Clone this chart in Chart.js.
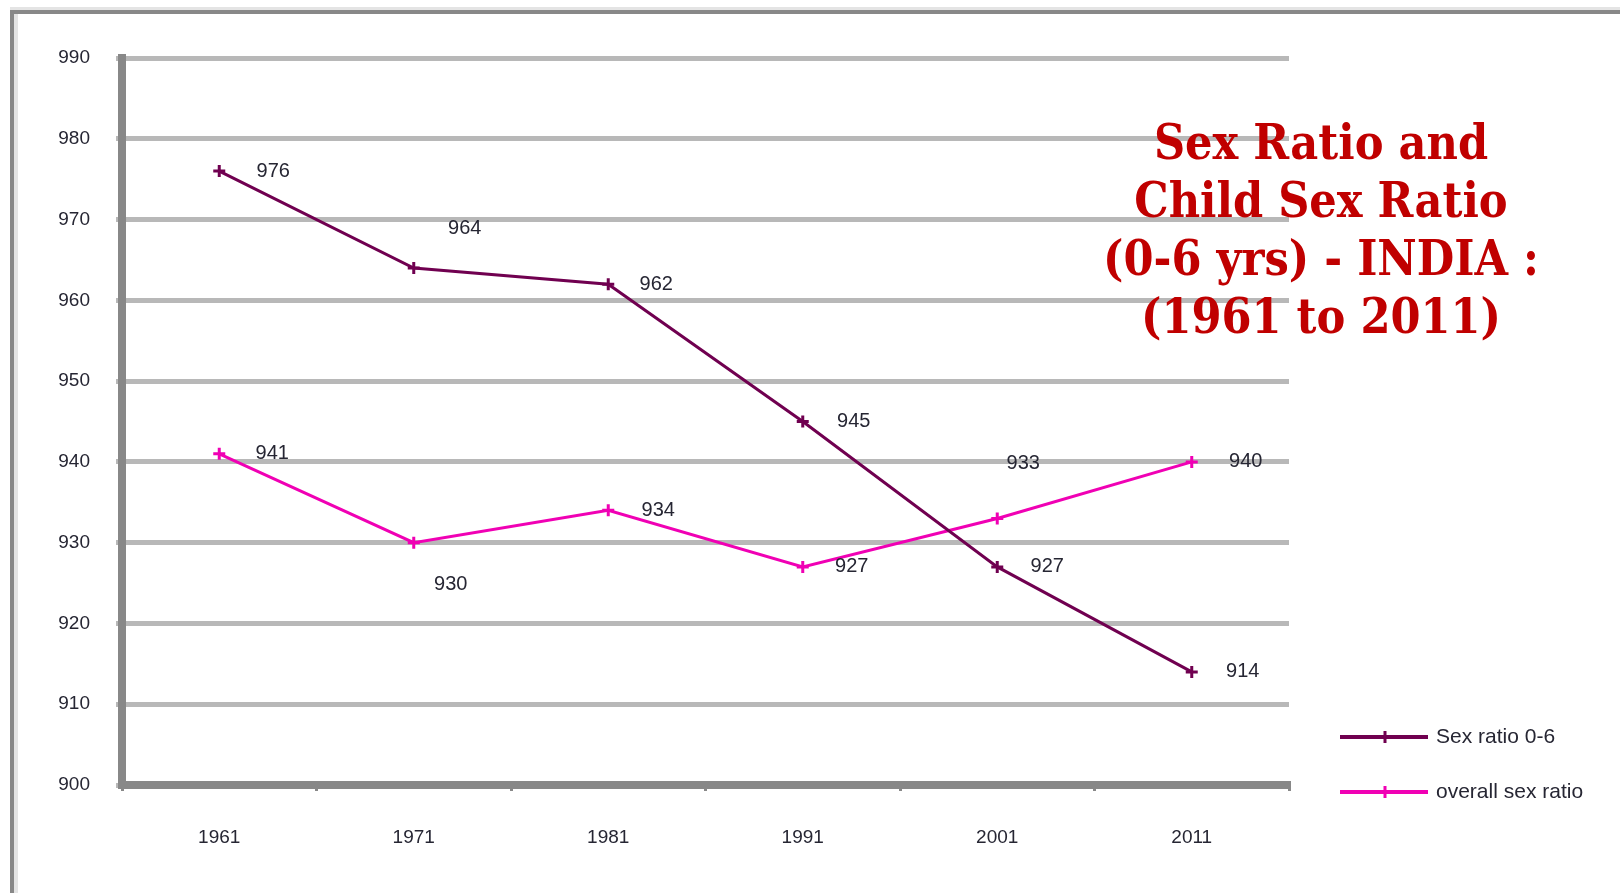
<!DOCTYPE html>
<html>
<head>
<meta charset="utf-8">
<title>Sex Ratio and Child Sex Ratio - India</title>
<script src="https://cdn.jsdelivr.net/npm/chart.js@4"></script>
<style>
  body { margin: 0; background: #fff; }
  #wrap { position: relative; width: 1620px; height: 893px; }
  #heading {
    position: absolute;
    left: 1071px;
    top: 113px;
    width: 500px;
    text-align: center;
    font-family: "DejaVu Serif Condensed", "DejaVu Serif", serif;
    font-stretch: condensed;
    font-weight: bold;
    font-size: 48px;
    line-height: 58px;
    color: #c00000;
  }
</style>
</head>
<body>
<div id="wrap">
  <canvas id="ratioChart" width="1620" height="893"></canvas>
  <div id="heading">Sex Ratio and<br>Child Sex Ratio<br>(0-6 yrs) - INDIA :<br>(1961 to 2011)</div>
</div>
<script>
const years = ["1961", "1971", "1981", "1991", "2001", "2011"];
const childSexRatio = [976, 964, 962, 945, 927, 914];
const overallSexRatio = [941, 930, 934, 927, 933, 940];
const seriesNames = ["Sex ratio 0-6", "overall sex ratio"];
const yMin = 900;
const yMax = 990;
const yStep = 10;

// where each value label sits relative to its point
const labelShiftX = [
  [54, 51, 48, 51, 50, 51],
  [53, 37, 50, 49, 26, 54],
];
const labelShiftY = [
  [0, -40, 0, 0, 0, 0],
  [0, 42, 0, 0, -55, 0],
];

const sansFamily = "'Liberation Sans', Arial, sans-serif";
const textColor = "#262633";

// grey frame along the top and left edge
const framePlugin = {
  id: "frame",
  beforeDraw(chart) {
    const c = chart.ctx;
    c.save();
    c.fillStyle = "#fff";
    c.fillRect(0, 0, chart.width, chart.height);
    c.fillStyle = "#e4e4e4";
    c.fillRect(10, 7, chart.width - 10, 3);
    c.fillRect(14, 14, 4, chart.height - 14);
    c.fillStyle = "#888";
    c.fillRect(10, 10, chart.width - 10, 4);
    c.fillRect(10, 10, 4, chart.height - 10);
    c.restore();
  },
};

const valueLabels = {
  id: "valueLabels",
  afterDatasetsDraw(chart) {
    const c = chart.ctx;
    c.save();
    c.font = "20px " + sansFamily;
    c.fillStyle = textColor;
    c.textAlign = "center";
    c.textBaseline = "middle";
    chart.data.datasets.forEach((ds, i) => {
      const meta = chart.getDatasetMeta(i);
      meta.data.forEach((pt, j) => {
        c.fillText(String(ds.data[j]), pt.x + labelShiftX[i][j], pt.y + labelShiftY[i][j]);
      });
    });
    c.restore();
  },
};

// legend in the lower right, built from the datasets
const sideLegend = {
  id: "sideLegend",
  afterDraw(chart) {
    const c = chart.ctx;
    const rows = [737, 792];
    c.save();
    chart.data.datasets.forEach((ds, i) => {
      const y = rows[i];
      c.strokeStyle = ds.borderColor;
      c.lineWidth = 4;
      c.beginPath();
      c.moveTo(1340, y);
      c.lineTo(1428, y);
      c.stroke();
      c.lineWidth = 3;
      c.beginPath();
      c.moveTo(1385, y - 6);
      c.lineTo(1385, y + 6);
      c.moveTo(1379, y);
      c.lineTo(1391, y);
      c.stroke();
      c.font = "21px " + sansFamily;
      c.fillStyle = textColor;
      c.textAlign = "left";
      c.textBaseline = "middle";
      c.fillText(ds.label, 1436, y);
    });
    c.restore();
  },
};

const ctx = document.getElementById("ratioChart").getContext("2d");

const ratioChart = new Chart(ctx, {
  type: "line",
  data: {
    labels: years,
    datasets: [
      {
        label: seriesNames[0],
        data: childSexRatio,
        borderColor: "#700050",
        backgroundColor: "#700050",
        borderWidth: 3,
        pointStyle: "cross",
        pointRadius: 6,
        pointBorderWidth: 3,
        tension: 0,
      },
      {
        label: seriesNames[1],
        data: overallSexRatio,
        borderColor: "#f000b4",
        backgroundColor: "#f000b4",
        borderWidth: 3,
        pointStyle: "cross",
        pointRadius: 6,
        pointBorderWidth: 3,
        tension: 0,
      },
    ],
  },
  options: {
    responsive: false,
    animation: false,
    layout: {
      padding: { left: 0, top: 58, right: 331, bottom: 0 },
    },
    plugins: {
      legend: { display: false },
      tooltip: { enabled: false },
    },
    scales: {
      x: {
        offset: true,
        afterFit: (scale) => { scale.height = 108; },
        grid: {
          offset: true,
          drawOnChartArea: false,
          color: "#888",
          lineWidth: 3,
          tickLength: 6,
        },
        border: { color: "#888", width: 8 },
        ticks: {
          color: textColor,
          font: { family: sansFamily, size: 19 },
          padding: 35,
          maxRotation: 0,
        },
      },
      y: {
        min: yMin,
        max: yMax,
        afterFit: (scale) => { scale.width = 122; },
        grid: {
          color: "#b8b8b8",
          lineWidth: 5,
          tickLength: 6,
        },
        border: { color: "#888", width: 8 },
        ticks: {
          stepSize: yStep,
          color: textColor,
          font: { family: sansFamily, size: 19 },
          padding: 26,
        },
      },
    },
  },
  plugins: [framePlugin, valueLabels, sideLegend],
});
</script>
</body>
</html>
